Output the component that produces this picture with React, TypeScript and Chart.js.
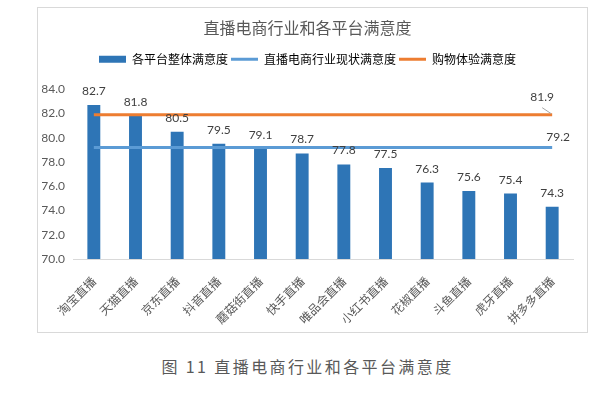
import React, { useEffect, useRef } from "react";
import { Chart, registerables } from "chart.js";

Chart.register(...registerables);

const categories = ["淘宝直播", "天猫直播", "京东直播", "抖音直播", "蘑菇街直播", "快手直播", "唯品会直播", "小红书直播", "花椒直播", "斗鱼直播", "虎牙直播", "拼多多直播"];
const platformScores = [82.7, 81.8, 80.5, 79.5, 79.1, 78.7, 77.8, 77.5, 76.3, 75.6, 75.4, 74.3];
const industryScores = [79.2, 79.2, 79.2, 79.2, 79.2, 79.2, 79.2, 79.2, 79.2, 79.2, 79.2, 79.2];
const shoppingScores = [81.9, 81.9, 81.9, 81.9, 81.9, 81.9, 81.9, 81.9, 81.9, 81.9, 81.9, 81.9];
const seriesNames = ["各平台整体满意度", "直播电商行业现状满意度", "购物体验满意度"];
const yTicks = [70, 72, 74, 76, 78, 80, 82, 84];

const CJK = "'Noto Sans CJK SC', sans-serif";
const NUM = "Lato, 'Liberation Sans', sans-serif";

const legendSpacer = {
  id: "legendSpacer",
  beforeInit(chart: any) {
    const legend = chart.legend;
    if (!legend) return;
    const origFit = legend.fit;
    legend.fit = function () {
      origFit.call(this);
      this.height += 14;
    };
  },
};

const labelPlugin = {
  id: "valueLabels",
  afterDatasetsDraw(chart: any) {
    const ctx = chart.ctx;
    ctx.save();
    ctx.fillStyle = "#404040";
    ctx.font = `12px ${NUM}`;
    ctx.textAlign = "center";
    ctx.textBaseline = "alphabetic";
    const barMeta = chart.getDatasetMeta(0);
    barMeta.data.forEach((el: any, i: number) => {
      ctx.fillText(platformScores[i].toFixed(1), el.x, el.y - 10);
    });
    const m1 = chart.getDatasetMeta(1);
    const p1 = m1.data[m1.data.length - 1];
    ctx.fillText(industryScores[industryScores.length - 1].toFixed(1), p1.x + 6, p1.y - 6);
    const m2 = chart.getDatasetMeta(2);
    const p2 = m2.data[m2.data.length - 1];
    ctx.fillText(shoppingScores[shoppingScores.length - 1].toFixed(1), p2.x - 10, p2.y - 14);
    ctx.strokeStyle = "#a6a6a6";
    ctx.lineWidth = 1;
    ctx.beginPath();
    ctx.moveTo(p2.x - 10, p2.y - 7);
    ctx.lineTo(p2.x - 1, p2.y - 1);
    ctx.stroke();
    ctx.restore();
  },
};

export default function App() {
  const ref = useRef<HTMLCanvasElement>(null);
  useEffect(() => {
    if (!ref.current) return;
    const chart = new Chart(ref.current, {
      type: "bar",
      data: {
        labels: categories,
        datasets: [
          {
            type: "bar",
            label: seriesNames[0],
            data: platformScores,
            backgroundColor: "#2E75B6",
            barPercentage: 0.62,
            categoryPercentage: 0.5,
            order: 3,
          } as any,
          {
            type: "line",
            label: seriesNames[1],
            data: industryScores,
            borderColor: "#5B9BD5",
            borderWidth: 3,
            pointRadius: 0,
            order: 1,
          },
          {
            type: "line",
            label: seriesNames[2],
            data: shoppingScores,
            borderColor: "#ED7D31",
            borderWidth: 3,
            pointRadius: 0,
            order: 0,
          },
        ],
      },
      options: {
        responsive: false,
        animation: false,
        layout: { padding: { left: 4, right: 14, top: 8, bottom: 0 } },
        plugins: {
          title: {
            display: true,
            text: "直播电商行业和各平台满意度",
            color: "#595959",
            font: { family: CJK, size: 16, weight: "normal" },
            padding: { top: 2, bottom: 13 },
          },
          legend: {
            display: true,
            labels: {
              color: "#595959",
              font: { family: CJK, size: 12 },
              usePointStyle: true,
              pointStyleWidth: 27,
              boxHeight: 7,
              padding: 3,
              generateLabels: () => [
                { text: seriesNames[0], pointStyle: "rect", fillStyle: "#2E75B6", strokeStyle: "#2E75B6", lineWidth: 0, datasetIndex: 0 },
                { text: seriesNames[1], pointStyle: "line", fillStyle: "#5B9BD5", strokeStyle: "#5B9BD5", lineWidth: 3, datasetIndex: 1 },
                { text: seriesNames[2], pointStyle: "line", fillStyle: "#ED7D31", strokeStyle: "#ED7D31", lineWidth: 3, datasetIndex: 2 },
              ] as any,
            },
          },
          tooltip: { enabled: false },
        },
        scales: {
          x: {
            grid: { display: false, drawTicks: false },
            border: { color: "#d9d9d9" },
            afterFit: (s: any) => {
              s.paddingLeft = 0;
              s.paddingRight = 0;
              s.height = 73;
            },
            ticks: {
              color: "#595959",
              font: { family: CJK, size: 12 },
              minRotation: 45,
              maxRotation: 45,
              autoSkip: false,
              padding: 15,
            },
          },
          y: {
            min: yTicks[0],
            max: yTicks[yTicks.length - 1],
            grid: { display: false, drawTicks: false },
            border: { display: false },
            afterBuildTicks: (axis: any) => {
              axis.ticks = yTicks.map((v) => ({ value: v }));
            },
            afterFit: (s: any) => {
              s.width = 31;
            },
            ticks: {
              color: "#595959",
              font: { family: NUM, size: 12 },
              padding: 8,
              callback: (v: any) => Number(v).toFixed(1),
            },
          },
        },
      },
      plugins: [labelPlugin, legendSpacer],
    });
    return () => chart.destroy();
  }, []);

  return (
    <div style={{ position: "fixed", left: 0, top: 0, width: 615, height: 403, background: "#fff" }}>
      <div
        style={{
          position: "absolute",
          left: 37,
          top: 7,
          width: 551,
          height: 326,
          boxSizing: "border-box",
          border: "1px solid #d9d9d9",
        }}
      >
        <canvas ref={ref} width={549} height={324} style={{ display: "block", width: 549, height: 324 }} />
      </div>
      <div
        style={{
          position: "absolute",
          left: 0,
          top: 354,
          width: 615,
          textAlign: "center",
          fontFamily: "'Noto Sans CJK SC', serif",
          fontSize: 16,
          letterSpacing: 2.4,
          color: "#595959",
        }}
      >
        图 11 直播电商行业和各平台满意度
      </div>
    </div>
  );
}
